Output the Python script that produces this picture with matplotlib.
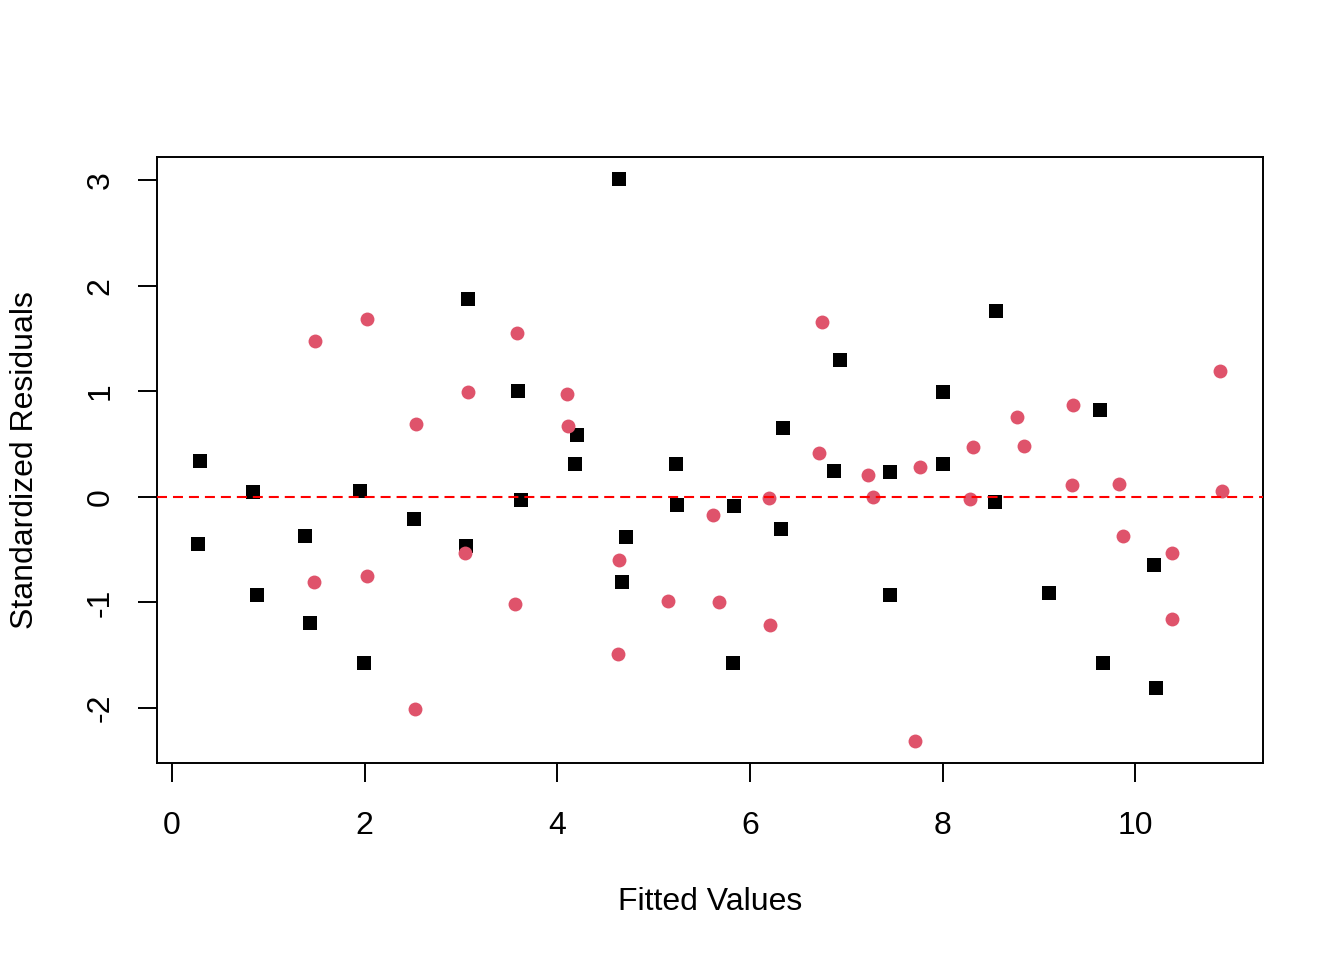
import matplotlib
matplotlib.use("Agg")
import matplotlib.pyplot as plt

plt.rcParams['font.family'] = ['Liberation Sans', 'DejaVu Sans']
plt.rcParams['lines.scale_dashes'] = False

# Black squares series
sq_x = [0.29, 0.27, 0.84, 0.88, 1.38, 1.43, 1.95, 1.99, 2.51, 3.07, 3.05, 3.59, 3.62,
        4.20, 4.18, 4.64, 4.71, 4.67, 5.23, 5.24, 5.83, 5.82, 6.34, 6.32, 6.93, 6.87,
        7.45, 7.45, 8.00, 8.00, 8.55, 8.54, 9.10, 9.63, 9.66, 10.19, 10.21]
sq_y = [0.34, -0.45, 0.05, -0.93, -0.37, -1.20, 0.06, -1.57, -0.21, 1.88, -0.47, 1.00, -0.03,
        0.59, 0.31, 3.01, -0.38, -0.81, 0.31, -0.08, -0.09, -1.57, 0.65, -0.30, 1.30, 0.25,
        0.24, -0.93, 0.99, 0.31, 1.76, -0.05, -0.91, 0.82, -1.57, -0.65, -1.81]

# Red circles series
ci_x = [1.48, 1.47, 2.02, 2.02, 2.53, 2.52, 3.07, 3.04, 3.58, 3.56, 4.10, 4.11, 4.64,
        4.63, 5.15, 5.62, 5.68, 6.20, 6.21, 6.75, 6.72, 7.23, 7.28, 7.76, 7.71, 8.31,
        8.28, 8.77, 8.84, 9.35, 9.34, 9.83, 9.87, 10.38, 10.38, 10.88, 10.90]
ci_y = [1.48, -0.81, 1.69, -0.75, 0.69, -2.01, 0.99, -0.53, 1.55, -1.02, 0.98, 0.67, -0.60,
        -1.49, -0.99, -0.17, -1.00, -0.01, -1.21, 1.66, 0.42, 0.21, 0.00, 0.28, -2.31, 0.47,
        -0.02, 0.76, 0.48, 0.87, 0.11, 0.12, -0.37, -0.53, -1.16, 1.19, 0.06]

x_ticks = [0, 2, 4, 6, 8, 10]
y_ticks = [-2, -1, 0, 1, 2, 3]

W, H = 1344, 960
fig = plt.figure(figsize=(W / 100, H / 100), dpi=100)
ax = fig.add_axes([157 / W, 1 - 763 / H, (1263 - 157) / W, (763 - 157) / H])

ax.scatter(sq_x, sq_y, marker='s', s=112, color='black', linewidths=0, zorder=3)
ax.scatter(ci_x, ci_y, marker='o', s=100, color='#DF536B', linewidths=0, zorder=3)
ax.axhline(0, color='#FF0000', lw=1.5, dashes=(7.2, 4.3), zorder=4)

allx = sq_x + ci_x
ally = sq_y + ci_y
xr = max(allx) - min(allx)
yr = max(ally) - min(ally)
ax.set_xlim(min(allx) - 0.04 * xr, max(allx) + 0.04 * xr)
ax.set_ylim(min(ally) - 0.04 * yr, max(ally) + 0.04 * yr)

ax.set_xticks(x_ticks)
ax.set_yticks(y_ticks)
ax.set_xticklabels([str(v) for v in x_ticks])
ax.set_yticklabels([str(v) for v in y_ticks], rotation=90, va='center')
ax.tick_params(axis='both', direction='out', length=13.7, width=1.4, labelsize=23)
ax.tick_params(axis='x', pad=21)
ax.tick_params(axis='y', pad=16)
for sp in ax.spines.values():
    sp.set_linewidth(1.4)

fig.text(710 / W, 1 - 902 / H, 'Fitted Values', ha='center', va='center', fontsize=23)
fig.text(25 / W, 1 - 460 / H, 'Standardized Residuals', ha='center', va='center',
         rotation=90, fontsize=23)

fig.savefig('out.png', dpi=100)
